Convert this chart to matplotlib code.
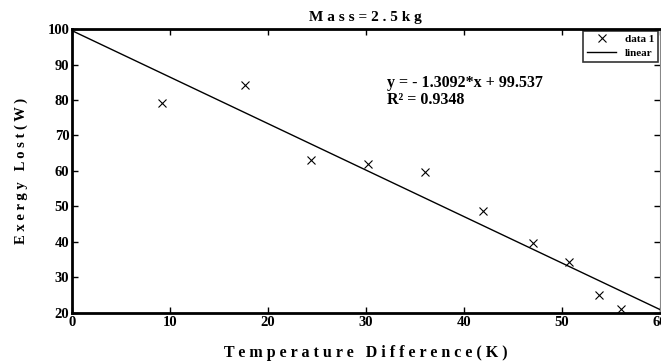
import numpy as np
import matplotlib.pyplot as plt

# measured points (temperature difference K, exergy lost W)
temp_diff = [9.2, 17.7, 24.4, 30.2, 36.0, 42.0, 47.1, 50.7, 53.8, 56.0]
exergy_lost = [79.2, 84.1, 63.0, 62.0, 59.8, 48.8, 39.6, 34.4, 25.1, 21.0]

# linear fit reported on the chart
slope = -1.3092
intercept = 99.537
r_squared = 0.9348

plt.rcParams['font.family'] = ['Liberation Serif', 'DejaVu Serif']
plt.rcParams['font.weight'] = 'bold'

fig = plt.figure(figsize=(6.61, 3.63), dpi=100)
ax = fig.add_axes([0.109, 0.138, 0.889, 0.782])

x_fit = np.array([0, 60])
ax.plot(temp_diff, exergy_lost, 'x', color='black', markersize=6, mew=0.8, label='data 1')
ax.plot(x_fit, slope * x_fit + intercept, '-', color='black', lw=1.0, label='linear')

ax.set_xlim(0, 60)
ax.set_ylim(20, 100)
ax.set_xticks(np.arange(0, 61, 10))
ax.set_yticks(np.arange(20, 101, 10))
ax.tick_params(direction='in', top=True, right=True, length=4, width=1,
               labelsize=10.5, pad=2)
for lbl in ax.get_xticklabels() + ax.get_yticklabels():
    lbl.set_fontweight('bold')

for side in ['left', 'bottom', 'top']:
    ax.spines[side].set_linewidth(2)
ax.spines['right'].set_linewidth(0.8)
ax.spines['right'].set_color('#888888')

ax.set_title('M a s s = 2 . 5 k g', fontsize=11, fontweight='bold', pad=6)
ax.set_xlabel('T e m p e r a t u r e   D i f f e r e n c e ( K )',
              fontsize=11.5, fontweight='bold', labelpad=12)
ax.set_ylabel('E x e r g y   L o s t ( W )', fontsize=10.5, fontweight='bold', labelpad=14)

eq = 'y = - %.4f*x + %.3f\nR\u00b2 = %.4f' % (abs(slope), intercept, r_squared)
ax.text(32.2, 87, eq, fontsize=11.5, fontweight='bold', va='top', linespacing=1.05)

leg = ax.legend(loc='upper right', fontsize=8, frameon=True, fancybox=False,
                edgecolor='black', borderaxespad=0.15, handlelength=2.6,
                markerfirst=True, borderpad=0.35, labelspacing=0.35)
leg.get_frame().set_linewidth(1.2)
for t in leg.get_texts():
    t.set_fontweight('bold')

fig.savefig('out.png', dpi=100)
